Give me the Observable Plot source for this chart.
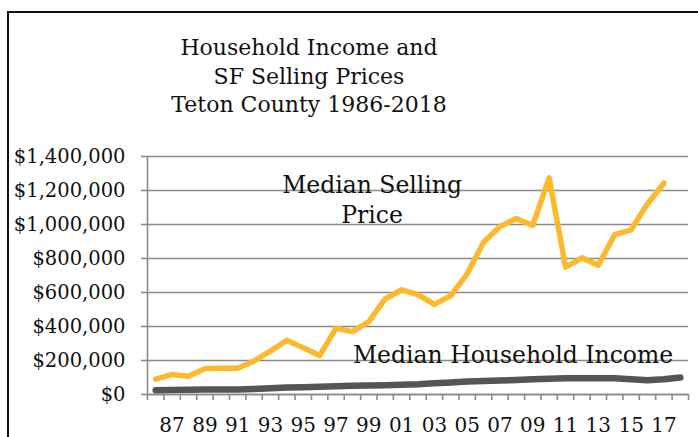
<!DOCTYPE html>
<html>
<head>
<meta charset="utf-8">
<script src="https://cdn.jsdelivr.net/npm/d3@7"></script>
<script src="https://cdn.jsdelivr.net/npm/@observablehq/plot@0.6"></script>
<style>
  html, body { margin: 0; padding: 0; background: #fff; }
  #wrap { position: relative; width: 698px; height: 437px; overflow: hidden; background: #fff; }
  #frame { position: absolute; left: 7px; top: 11px; right: -10px; bottom: -10px; border-left: 2px solid #111; border-top: 2px solid #111; }
  #title { position: absolute; left: 0; top: 34px; width: 618px; text-align: center; font-family: "DejaVu Serif", serif; font-size: 22px; line-height: 28.5px; color: #111; }
  #chart { position: absolute; left: 0; top: 0; }
</style>
</head>
<body>
<div id="wrap">
  <div id="frame"></div>
  <div id="title">Household Income and<br>SF Selling Prices<br>Teton County 1986-2018</div>
  <div id="chart"></div>
</div>
<script>
const years = [1986,1987,1988,1989,1990,1991,1992,1993,1994,1995,1996,1997,1998,1999,2000,2001,2002,2003,2004,2005,2006,2007,2008,2009,2010,2011,2012,2013,2014,2015,2016,2017,2018];
const sellingPrice = [90000,118000,108000,151000,155000,155000,197000,255000,318000,275000,229000,390000,370000,429000,563000,616000,588000,530000,582000,710000,896000,988000,1035000,994000,1275000,749000,804000,761000,941000,969000,1122000,1243000,null];
const householdIncome = [25000,27000,28000,29000,29000,30000,33000,37000,41000,43000,45000,48000,51000,53000,55000,57000,60000,66000,70000,76000,80000,82000,86000,90000,92000,95000,96000,96000,95000,90000,84000,90000,100000];
const yTicks = [0,200000,400000,600000,800000,1000000,1200000,1400000];
const labelYears = [1987,1989,1991,1993,1995,1997,1999,2001,2003,2005,2007,2009,2011,2013,2015,2017];
const categoryEdges = d3.range(1985.5, 2019, 1);
const annotations = [
  {year: 1999.2, value: 1153000, text: "Median Selling\nPrice"},
  {year: 2007.8, value: 240000, text: "Median Household Income"}
];

const priceRows = years.map((y, i) => ({year: y, value: sellingPrice[i]}));
const incomeRows = years.map((y, i) => ({year: y, value: householdIncome[i]}));
const grid = "#8a8a8a";

const chart = Plot.plot({
  width: 698,
  height: 437,
  marginTop: 156,
  marginBottom: 43,
  marginLeft: 147,
  marginRight: 10,
  style: {fontFamily: "DejaVu Serif", fontSize: "19px", background: "transparent", color: "#111", overflow: "visible"},
  x: {domain: [1985.5, 2018.5]},
  y: {domain: [0, 1400000]},
  marks: [
    Plot.gridY({ticks: yTicks, stroke: grid, strokeOpacity: 1, strokeWidth: 1.6}),
    Plot.ruleX([1985.5], {stroke: grid, strokeWidth: 1.6}),
    Plot.ruleY([0], {stroke: grid, strokeWidth: 1.6}),
    Plot.axisY({ticks: yTicks, tickSize: 6, tickPadding: 16, stroke: grid, strokeWidth: 1.6, fill: "#111", fontSize: 19.5, label: null,
      tickFormat: d => "$" + d3.format(",")(d)}),
    Plot.axisX({ticks: categoryEdges, tickSize: 6, stroke: grid, strokeWidth: 1.6, tickFormat: () => "", label: null}),
    Plot.axisX({ticks: labelYears, tickSize: 0, tickPadding: 23, fill: "#111", fontSize: 20, label: null,
      tickFormat: d => String(d % 100).padStart(2, "0")}),
    Plot.line(incomeRows, {x: "year", y: "value", stroke: "#555555", strokeWidth: 6.5, strokeLinecap: "round", strokeLinejoin: "round"}),
    Plot.line(priceRows, {x: "year", y: "value", stroke: "#FDB92E", strokeWidth: 5.5, strokeLinejoin: "round"}),
    Plot.text(annotations, {x: "year", y: "value", text: "text", fontSize: 23.5, fill: "#111", lineHeight: 1.28, lineAnchor: "middle"})
  ]
});
document.getElementById("chart").appendChild(chart);
</script>
</body>
</html>
